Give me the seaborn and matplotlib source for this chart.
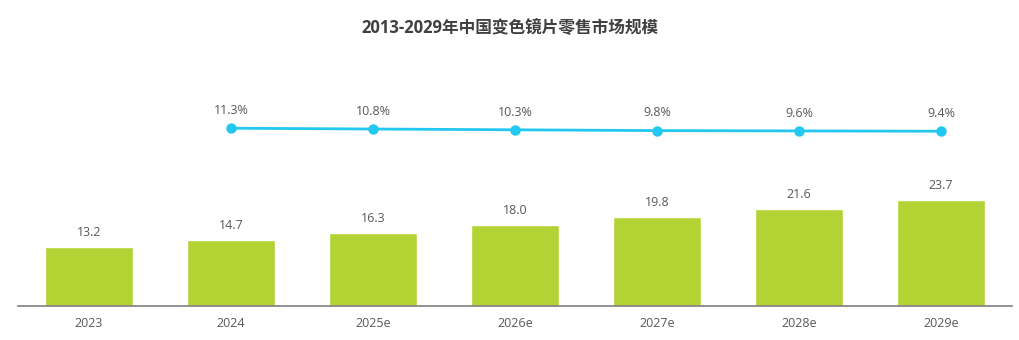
import numpy as np
import pandas as pd
import matplotlib
matplotlib.use("Agg")
import matplotlib.pyplot as plt
import seaborn as sns

# Market size (bars) and growth rate (line)
years = ["2023", "2024", "2025e", "2026e", "2027e", "2028e", "2029e"]
market_size = [13.2, 14.7, 16.3, 18.0, 19.8, 21.6, 23.7]
growth_years = ["2024", "2025e", "2026e", "2027e", "2028e", "2029e"]
growth_rate = [11.3, 10.8, 10.3, 9.8, 9.6, 9.4]
title = "2013-2029年中国变色镜片零售市场规模"

sns.set_theme(style="white")
plt.rcParams["font.family"] = ["Open Sans", "Noto Sans CJK SC", "DejaVu Sans"]

BAR_COLOR = "#B3D335"
LINE_COLOR = "#22C8F0"
TEXT_COLOR = "#595959"

fig = plt.figure(figsize=(10.2, 3.4), dpi=100)
ax = fig.add_axes([18 / 1020, 34 / 340, 994 / 1020, 246 / 340])

bars_df = pd.DataFrame({"year": years, "size": market_size})
sns.barplot(data=bars_df, x="year", y="size", color=BAR_COLOR, width=0.62,
            saturation=1, ax=ax)
ax.set_xlim(-0.5, len(years) - 0.5)
ax.set_ylim(0, 55)

for i, v in enumerate(market_size):
    ax.annotate(f"{v:.1f}", (i, v), xytext=(0, 6), textcoords="offset points",
                ha="center", va="bottom", fontsize=9, color=TEXT_COLOR)

ax.set_xlabel("")
ax.set_ylabel("")
ax.set_yticks([])
ax.tick_params(axis="x", length=0, labelsize=9, labelcolor=TEXT_COLOR, pad=8)
for s in ["top", "right", "left"]:
    ax.spines[s].set_visible(False)
ax.spines["bottom"].set_color("#7F7F7F")
ax.spines["bottom"].set_linewidth(1.2)

# Growth rate on a secondary axis
ax2 = ax.twinx()
pos = [years.index(y) for y in growth_years]
line_df = pd.DataFrame({"pos": pos, "rate": growth_rate})
sns.lineplot(data=line_df, x="pos", y="rate", color=LINE_COLOR, linewidth=2.0,
             marker="o", markersize=7.5, markeredgewidth=0, ax=ax2)
ax2.set_ylim(-100, 54)
ax2.set_xlim(-0.5, len(years) - 0.5)
for p, r in zip(pos, growth_rate):
    ax2.annotate(f"{r:.1f}%", (p, r), xytext=(0, 8), textcoords="offset points",
                 ha="center", va="bottom", fontsize=9, color=TEXT_COLOR)
ax2.set_xlabel("")
ax2.set_ylabel("")
ax2.set_yticks([])
for s in ["top", "right", "left", "bottom"]:
    ax2.spines[s].set_visible(False)

fig.text(0.5, 1 - 28 / 340, title, ha="center", va="center", fontsize=12,
         fontweight="bold", color="#404040")

fig.savefig("out.png", dpi=100)
